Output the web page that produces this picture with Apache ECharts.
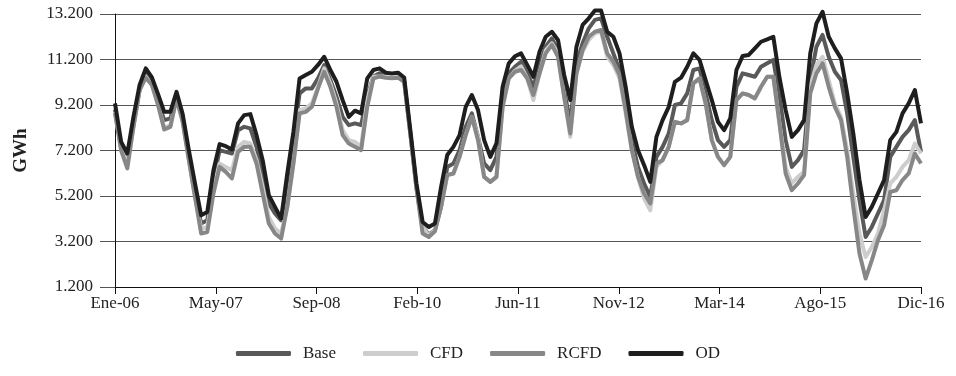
<!DOCTYPE html>
<html>
<head>
<meta charset="utf-8">
<script src="https://cdn.jsdelivr.net/npm/echarts@6/dist/echarts.min.js"></script>
<style>html,body{margin:0;padding:0;background:#fff}#c{width:956px;height:376px}</style>
</head>
<body>
<div id="c"></div>
<script>
const xTickLabels = ['Ene-06','May-07','Sep-08','Feb-10','Jun-11','Nov-12','Mar-14','Ago-15','Dic-16'];
const seriesNames = ['Base','CFD','RCFD','OD'];
const yTickValues = [1200,3200,5200,7200,9200,11200,13200];

const base = [9000,7300,6850,8300,9900,10650,10200,9350,8535,8610,9550,8550,6900,5300,3990,4130,5900,7215,7140,7070,8090,8240,
8170,7360,6190,4870,4430,4130,5380,7655,9710,9930,9930,10370,10960,10300,9560,8680,8315,8390,8315,9600,10450,10600,10500,10480,10500,10250,
7950,5550,3850,3500,3700,4750,6480,6630,7215,8240,8830,7800,6630,6335,6920,9270,10590,10880,11100,10590,10000,10960,11760,12130,11620,9860,8390,
11030,11910,12570,12940,13010,12200,11470,10740,9270,7655,6480,5750,5160,6920,7360,7950,9200,9270,9710,10740,10810,9710,8535,7655,7360,7655,
10000,10590,10520,10440,10880,11030,11180,9560,7655,6480,6775,7215,10300,11760,12280,11320,10660,10300,8830,6920,5015,3400,3840,4430,5015,6920,
7360,7800,8095,8535,7140];
const cfd = [8900,7250,6630,8240,9850,10450,10080,9200,8200,8300,9490,8460,6780,5160,3770,3840,5450,6630,6480,6335,7360,7580,
7510,6775,5600,4280,3770,3550,4720,6630,8975,9050,9270,10000,10810,10150,9270,8095,7655,7580,7360,9415,10440,10450,10450,10420,10450,10220,
7950,5530,3840,3450,3700,4720,6115,6190,6920,7875,8680,7800,6040,5820,6040,9120,10370,10700,10900,10370,9415,10590,11600,11910,11470,9560,7800,
10590,11540,12060,12350,12420,11320,10960,10370,8830,7215,6040,5090,4570,6480,6775,7360,8460,8390,8535,10150,10370,9270,7655,6920,6555,6920,
9415,9710,9640,9490,10000,10440,10440,8390,6480,5750,6040,6260,10000,10960,11320,10300,9270,8680,7215,5310,3550,2520,2960,3550,4570,5750,
6040,6480,6775,7510,7070];
const rcfd = [8850,7200,6410,8240,9850,10400,10080,9200,8125,8240,9490,8460,6780,5160,3550,3620,5310,6480,6260,5970,7140,7360,
7360,6630,5310,3990,3550,3330,4720,6630,8830,8900,9120,9930,10660,10000,9120,7875,7510,7360,7215,9120,10370,10450,10400,10380,10400,10220,
7950,5530,3550,3400,3650,4720,6115,6190,6920,7875,8680,7650,6040,5820,6040,9120,10370,10660,10740,10370,9640,10590,11470,11840,11320,9560,7950,
10590,11620,12200,12420,12500,11470,11100,10520,8975,7215,6040,5310,4870,6630,6775,7360,8460,8390,8535,10150,10370,9270,7655,6920,6555,6920,
9415,9710,9640,9490,10000,10440,10440,8390,6190,5455,5750,6115,9710,10590,11030,10000,9120,8535,6920,4720,2670,1570,2370,3250,3910,5380,
5455,5900,6190,7070,6630];
const od = [9270,7580,7070,8680,10080,10810,10410,9680,8900,8900,9780,8800,7215,5750,4350,4500,6330,7480,7390,7245,8390,8755,
8800,7875,6775,5235,4720,4210,6190,8020,10370,10520,10660,10960,11320,10740,10220,9415,8680,8950,8830,10370,10740,10810,10620,10590,10620,10410,
8100,5750,4060,3840,3990,5600,7000,7360,7875,9120,9640,8975,7655,6920,7510,10000,11030,11340,11470,10960,10440,11540,12200,12420,12060,10520,9415,
11760,12720,13010,13350,13350,12420,12200,11470,10000,8240,7215,6555,5820,7800,8535,9120,10220,10400,10880,11470,11180,10300,9415,8460,8095,8610,
10740,11350,11400,11690,11980,12085,12200,10400,8975,7800,8095,8535,11470,12790,13300,12200,11690,11250,9710,7950,5900,4280,4720,5310,5900,7655,
8020,8830,9270,9860,8390];

const colors = ['#595959','#cdcdcd','#878787','#1e1e1e'];
const FONT = 'Liberation Serif';
const xMax = od.length - 1;
const xStep = xMax / (xTickLabels.length - 1);

const chart = echarts.init(document.getElementById('c'));
const allData = [base, cfd, rcfd, od];
chart.setOption({
  animation: false,
  color: colors,
  textStyle: { fontFamily: FONT },
  grid: { left: 115, right: 35, top: 14, bottom: 89, containLabel: false },
  legend: {
    bottom: 9, left: 'center',
    icon: 'roundRect', itemWidth: 55, itemHeight: 5, itemGap: 27,
    textStyle: { fontFamily: FONT, fontSize: 17, color: '#222', padding: [0, 0, 0, 7] },
    data: seriesNames
  },
  xAxis: {
    type: 'value', min: 0, max: xMax, interval: xStep,
    axisLine: { lineStyle: { color: '#111', width: 1 } },
    axisTick: { show: true, length: 7, lineStyle: { color: '#111' } },
    axisLabel: {
      fontFamily: FONT, fontSize: 17, color: '#222', margin: 8,
      formatter: v => xTickLabels[Math.round(v / xStep)] || ''
    },
    splitLine: { show: false }
  },
  yAxis: {
    type: 'value', min: 1200, max: 13200, interval: 2000,
    name: 'GWh', nameLocation: 'middle', nameRotate: 90, nameGap: 84,
    nameTextStyle: { fontFamily: FONT, fontSize: 19, fontWeight: 'bold', color: '#222' },
    axisLine: { show: true, lineStyle: { color: '#111', width: 1 } },
    axisTick: { show: true, length: 15, lineStyle: { color: '#555' }, customValues: yTickValues },
    axisLabel: {
      fontFamily: FONT, fontSize: 17, color: '#222', margin: 22,
      customValues: yTickValues,
      formatter: v => (v / 1000).toFixed(3)
    },
    splitLine: { show: true, lineStyle: { color: '#555', width: 1 } }
  },
  series: seriesNames.map((n, k) => ({
    name: n, type: 'line', showSymbol: false, symbol: 'none', clip: false,
    lineStyle: { width: 4, color: colors[k], join: 'round' },
    itemStyle: { color: colors[k] },
    data: allData[k].map((v, i) => [i, v])
  }))
});
</script>
</body>
</html>
